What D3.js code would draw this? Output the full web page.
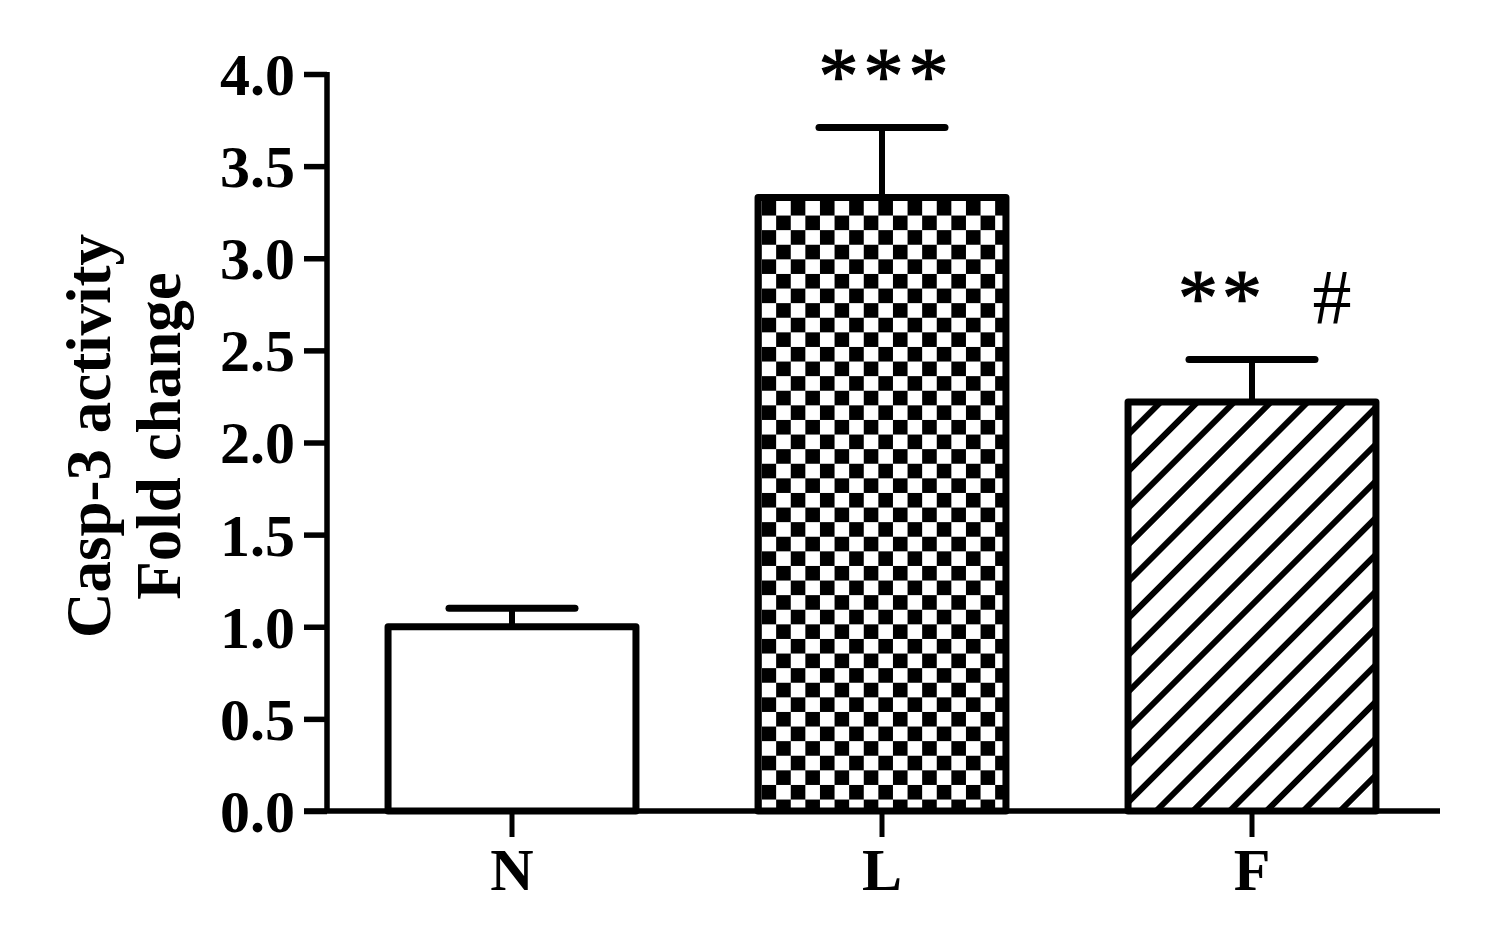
<!DOCTYPE html>
<html>
<head>
<meta charset="utf-8">
<script src="https://cdn.jsdelivr.net/npm/d3@7"></script>
<style>
  html, body { margin: 0; padding: 0; background: #fff; }
  svg { display: block; }
  text { font-family: "Liberation Serif", "Times New Roman", serif; font-weight: bold; fill: #000; }
</style>
</head>
<body>
<svg id="chart" width="1494" height="942"></svg>
<script>
// ---- data ----
const categories = ["N", "L", "F"];
const means = [1.0, 3.33, 2.22];
const errors = [0.10, 0.38, 0.23];
const fills = ["white", "checker", "hatch"];
const yTicks = [0, 0.5, 1.0, 1.5, 2.0, 2.5, 3.0, 3.5, 4.0];
const annotations = [
  { cat: "L", text: "***" },
  { cat: "F", text: "**" },
  { cat: "F", text: "#" }
];
const yTitle = ["Casp-3 activity", "Fold change"];

// ---- layout ----
const svg = d3.select("#chart");
const axisX = 327, yBottom = 811, yTop = 74;
const y = d3.scaleLinear().domain([0, 4]).range([yBottom, yTop]);
const x = d3.scaleBand().domain(categories).range([axisX, 1437])
  .paddingInner(0.33).paddingOuter(0.165);

// patterns
const defs = svg.append("defs");
const cs = 14.6;
const chk = defs.append("pattern").attr("id", "checker")
  .attr("patternUnits", "userSpaceOnUse").attr("width", 2 * cs).attr("height", 2 * cs)
  .attr("x", x("L") + 3.5).attr("y", y(means[1]) + 3.5);
chk.append("rect").attr("width", 2 * cs).attr("height", 2 * cs).attr("fill", "#fff");
chk.append("rect").attr("x", 0).attr("y", 0).attr("width", cs).attr("height", cs).attr("fill", "#000");
chk.append("rect").attr("x", cs).attr("y", cs).attr("width", cs).attr("height", cs).attr("fill", "#000");

const hat = defs.append("pattern").attr("id", "hatch")
  .attr("patternUnits", "userSpaceOnUse").attr("width", 26).attr("height", 26)
  .attr("patternTransform", "rotate(45)");
hat.append("rect").attr("width", 26).attr("height", 26).attr("fill", "#fff");
hat.append("line").attr("x1", 13).attr("x2", 13).attr("y1", 0).attr("y2", 26)
  .attr("stroke", "#000").attr("stroke-width", 6);

const data = categories.map((c, i) => ({ cat: c, mean: means[i], err: errors[i], fill: fills[i] }));
const cx = d => x(d.cat) + x.bandwidth() / 2;

// error bars (drawn below bars)
const eb = svg.append("g");
eb.selectAll("line.v").data(data).join("line")
  .attr("x1", cx).attr("x2", cx)
  .attr("y1", d => y(d.mean)).attr("y2", d => y(d.mean + d.err))
  .attr("stroke", "#000").attr("stroke-width", 6);
eb.selectAll("line.cap").data(data).join("line")
  .attr("x1", d => cx(d) - 63).attr("x2", d => cx(d) + 63)
  .attr("y1", d => y(d.mean + d.err)).attr("y2", d => y(d.mean + d.err))
  .attr("stroke", "#000").attr("stroke-width", 7).attr("stroke-linecap", "round");

// bars
svg.append("g").selectAll("rect").data(data).join("rect")
  .attr("x", d => x(d.cat)).attr("width", x.bandwidth())
  .attr("y", d => y(d.mean)).attr("height", d => y(0) - y(d.mean))
  .attr("fill", d => d.fill === "white" ? "#fff" : `url(#${d.fill})`)
  .attr("stroke", "#000").attr("stroke-width", 7).attr("stroke-linejoin", "round");

// y axis
const yAxis = svg.append("g").attr("transform", `translate(${axisX},0)`)
  .call(d3.axisLeft(y).tickValues(yTicks).tickFormat(d3.format(".1f")).tickSize(23).tickPadding(9));
yAxis.select(".domain").attr("d", `M0,${yTop - 2}V${yBottom}`).attr("stroke-width", 5.5);
yAxis.selectAll(".tick line").attr("stroke-width", 5.5);
yAxis.selectAll(".tick text").style("font-size", "60px").style("font-family", "Liberation Serif").style("font-weight", "bold").attr("dy", "0.34em");

// x axis
const xAxis = svg.append("g").attr("transform", `translate(0,${yBottom})`)
  .call(d3.axisBottom(x).tickSize(26).tickPadding(10));
xAxis.select(".domain").attr("d", `M${axisX - 23},0H1440`).attr("stroke-width", 5.5);
xAxis.selectAll(".tick line").attr("stroke-width", 5);
xAxis.selectAll(".tick text").style("font-size", "60px").style("font-family", "Liberation Serif").style("font-weight", "bold");

// y title
const yt = svg.append("g").attr("transform", "translate(0,436) rotate(-90)");
yt.selectAll("text").data(yTitle).join("text")
  .attr("x", 0).attr("y", (d, i) => 110 + i * 70)
  .attr("text-anchor", "middle").style("font-size", "63px").text(d => d);

// annotations (placement relative to the error bar top)
const dataByCat = Object.fromEntries(data.map(d => [d.cat, d]));
const annStyle = {
  "***": { dx: 4, dy: -24, size: 80, ls: 5 },
  "**": { dx: -30, dy: -35, size: 80, ls: 4 },
  "#": { dx: 80, dy: -37, size: 78, ls: 0 }
};
svg.append("g").selectAll("text").data(annotations).join("text")
  .attr("x", d => cx(dataByCat[d.cat]) + annStyle[d.text].dx)
  .attr("y", d => y(dataByCat[d.cat].mean + dataByCat[d.cat].err) + annStyle[d.text].dy)
  .attr("text-anchor", "middle")
  .style("font-size", d => annStyle[d.text].size + "px")
  .style("font-weight", "normal")
  .style("letter-spacing", d => annStyle[d.text].ls + "px")
  .style("stroke", d => d.text === "#" ? "none" : "#000")
  .style("stroke-width", d => d.text === "#" ? 0 : 1.2)
  .text(d => d.text);
</script>
</body>
</html>
